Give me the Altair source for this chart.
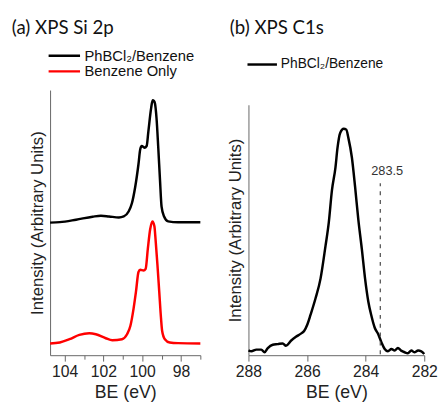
import altair as alt
import pandas as pd

# ---------------- data: panel (a) XPS Si 2p ----------------
series_a = ["PhBCl\u2082/Benzene", "Benzene Only"]
a_black_be = [104.75, 104.25, 103.41, 102.56, 102.13, 101.71, 101.20, 100.95, 100.70, 100.53,
              100.36, 100.19, 100.10, 100.02, 99.93, 99.88, 99.77, 99.68, 99.54, 99.46,
              99.40, 99.34, 99.26, 99.17, 99.08, 99.00, 98.87, 98.66, 98.15, 97.0]
a_black_int = [134, 134.5, 137, 140, 141, 140.3, 139.3, 140.3, 145.3, 153.7,
               170.3, 193.7, 208.7, 212, 211, 210.3, 212, 227, 250.3, 258.7,
               258, 255.3, 240.3, 210.3, 177, 150.3, 140.3, 135.3, 134.3, 134.3]
a_red_be = [104.75, 104.25, 103.75, 103.24, 102.73, 102.39, 101.88, 101.54, 101.04, 100.78,
            100.61, 100.44, 100.32, 100.19, 100.10, 99.93, 99.82, 99.71, 99.59, 99.47,
            99.37, 99.31, 99.21, 99.12, 99.03, 98.97, 98.83, 98.58, 98.15, 97.0]
a_red_int = [11, 12, 15.3, 19.7, 21.3, 20.3, 16.3, 14.3, 15.3, 20.3,
             28.7, 47, 63.7, 83.7, 86, 85.3, 87, 107, 127, 135.3,
             130.3, 117, 90.3, 63.7, 37, 23.7, 15.3, 12, 11.3, 11]

# ---------------- data: panel (b) XPS C1s ----------------
series_b = ["PhBCl\u2082/Benzene"]
b_be = [288.0, 287.90, 287.73, 287.56, 287.45, 287.34, 287.17, 287.00, 286.83, 286.72,
        286.55, 286.38, 286.21, 286.10, 285.99, 285.88, 285.71, 285.54, 285.37, 285.26,
        285.15, 285.03, 284.96, 284.87, 284.75, 284.66, 284.59, 284.47, 284.36, 284.25,
        284.13, 284.02, 283.91, 283.80, 283.69, 283.57, 283.46, 283.35, 283.24, 283.12,
        283.01, 282.90, 282.79, 282.67, 282.56, 282.44, 282.34, 282.21, 282.10, 282.0]
b_int = [4, 3, 4.7, 4.7, 2, 6.3, 9.7, 10.3, 11, 8.7,
         13.7, 17.7, 21, 23.7, 30.3, 40.3, 57, 77, 110.3, 133.7,
         167, 190.3, 210.3, 225.3, 229.7, 228.7, 220.3, 200.3, 170.3, 137,
         107, 77, 53.7, 38.7, 27, 20.3, 12, 5.3, 3, 5.3,
         3.7, 6.3, 3.7, 2, 1, 3.7, 2, 3.7, 3, 0.3]
ref_be = [283.5]
ref_top = [174]
ref_label = ["283.5"]
ref_label_y = [186]

a_ticks = [104, 103, 102, 101, 100, 99, 98, 97]
b_ticks = [288, 287, 286, 285, 284, 283, 282]

df_a = pd.DataFrame({
    "be": a_black_be + a_red_be,
    "intensity": a_black_int + a_red_int,
    "series": [series_a[0]] * len(a_black_be) + [series_a[1]] * len(a_red_be),
})
df_b = pd.DataFrame({"be": b_be, "intensity": b_int, "series": series_b * len(b_be)})
df_ref = pd.DataFrame({"be": ref_be, "y0": [0], "top": ref_top,
                       "label": ref_label, "ly": ref_label_y})

AX_FONT = "Liberation Sans"


def x_axis(ticks):
    return alt.Axis(
        values=ticks, format="d", title="BE (eV)",
        labelExpr="datum.value % 2 === 0 ? datum.label : ''",
        tickSize={"condition": {"test": "datum.value % 2 === 0", "value": 6}, "value": 4},
        labelFontSize=16, titleFontSize=18, titleFontWeight="normal",
        labelFont=AX_FONT, titleFont=AX_FONT, labelPadding=3, titlePadding=4,
        grid=False, domainColor="#666", tickColor="#666", labelColor="#222",
        titleColor="#222", labelFlush=False, labelOverlap=False,
    )


def y_axis():
    return alt.Axis(
        title="Intensity (Arbitrary Units)", labels=False, ticks=False, grid=False,
        titleFontSize=17, titleFontWeight="normal", titleFont=AX_FONT,
        domainColor="#666", titleColor="#222", titlePadding=4,
    )


def legend(x, y, shape, fs, loff):
    return alt.Legend(
        title=None, orient="none", legendX=x, legendY=y, symbolType=shape,
        symbolSize=100, symbolStrokeWidth=2.5, labelFontSize=fs, labelFont=AX_FONT,
        labelColor="#111", rowPadding=-3, labelOffset=loff, padding=0, offset=0,
    )


panel_a = alt.Chart(df_a).mark_line(strokeWidth=2.5, interpolate="monotone").encode(
    x=alt.X("be:Q", scale=alt.Scale(domain=[104.75, 97], nice=False, zero=False), axis=x_axis(a_ticks)),
    y=alt.Y("intensity:Q", scale=alt.Scale(domain=[-1, 269], nice=False, zero=False), axis=y_axis()),
    color=alt.Color("series:N", sort=series_a,
                    scale=alt.Scale(domain=series_a, range=["#000000", "#ff0000"]),
                    legend=legend(7, -42.5, "M-3.2,0H3.2", 15, 13)),
    detail="series:N",
).properties(
    width=153, height=270,
    title=alt.TitleParams("(a) XPS Si 2p", anchor="start", frame="group", dx=-39,
                          font="Lato", fontSize=19, fontWeight="normal", color="#111", offset=10.5),
)

line_b = alt.Chart(df_b).mark_line(strokeWidth=2.5, interpolate="monotone").encode(
    x=alt.X("be:Q", scale=alt.Scale(domain=[288, 282], nice=False, zero=False), axis=x_axis(b_ticks)),
    y=alt.Y("intensity:Q", scale=alt.Scale(domain=[-1, 254], nice=False, zero=False, range=[270, 15]),
            axis=y_axis()),
    color=alt.Color("series:N", scale=alt.Scale(domain=series_b, range=["#000000"]),
                    legend=legend(7, -33, "M-3,0H3", 14, 12)),
)
rule_b = alt.Chart(df_ref).mark_rule(strokeDash=[4, 5], color="#555", strokeWidth=1.3).encode(
    x="be:Q", y="y0:Q", y2="top:Q",
)
text_b = alt.Chart(df_ref).mark_text(fontSize=13, font=AX_FONT, color="#333", dx=7,
                                     baseline="middle").encode(
    x="be:Q", y="ly:Q", text="label:N",
)
panel_b = alt.layer(line_b, rule_b, text_b).properties(
    width=179, height=270,
    title=alt.TitleParams("(b) XPS C1s", anchor="start", frame="group", dx=-19,
                          font="Lato", fontSize=19, fontWeight="normal", color="#111", offset=20),
)

chart = alt.hconcat(panel_a, panel_b, spacing=22).resolve_scale(
    color="independent", x="independent", y="independent"
).resolve_legend(color="independent").properties(
    padding={"left": 12, "top": 16, "right": 0, "bottom": 0}
).configure_view(stroke=None)

chart.save("out.html", embed_options={"renderer": "svg", "actions": False})
